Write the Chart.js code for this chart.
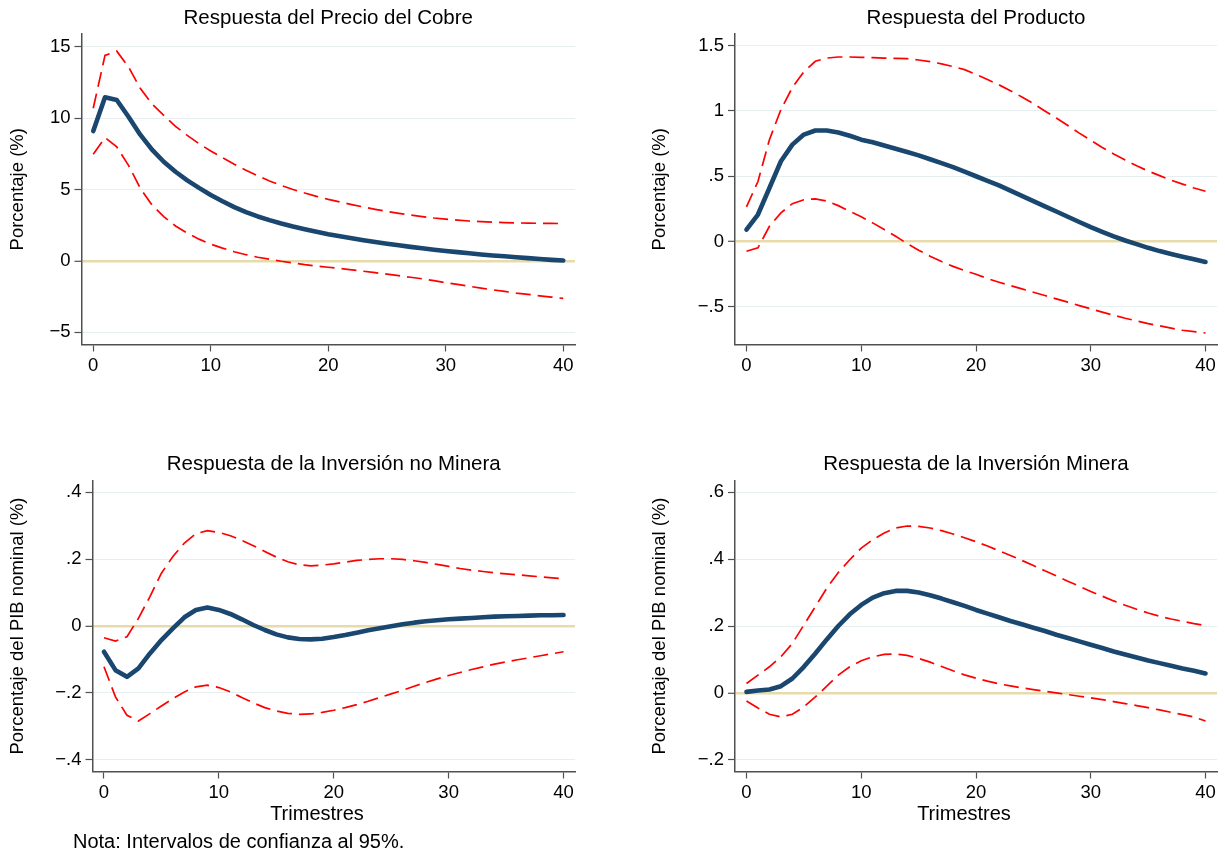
<!DOCTYPE html>
<html>
<head>
<meta charset="utf-8">
<script src="https://cdn.jsdelivr.net/npm/chart.js@4.4.1/dist/chart.umd.min.js"></script>
<style>
  html, body { margin: 0; padding: 0; background: #fff; }
  #wrap { position: relative; width: 1225px; height: 854px; overflow: hidden; background: #fff; }
  canvas { position: absolute; }
  #nota { position: absolute; left: 73px; top: 829px; font: 20px "Liberation Sans", Arial, sans-serif; color: #000; line-height: 24px; white-space: nowrap; }
</style>
</head>
<body>
<div id="wrap">
  <canvas id="c1" width="612" height="427" style="left:0px;top:0px"></canvas>
  <canvas id="c2" width="613" height="427" style="left:612px;top:0px"></canvas>
  <canvas id="c3" width="612" height="427" style="left:0px;top:427px"></canvas>
  <canvas id="c4" width="613" height="427" style="left:612px;top:427px"></canvas>
  <div id="nota">Nota: Intervalos de confianza al 95%.</div>
</div>
<script>
// ---------------- DATA ----------------
const quarters = [0,1,2,3,4,5,6,7,8,9,10,11,12,13,14,15,16,17,18,19,20,21,22,23,24,25,26,27,28,29,30,31,32,33,34,35,36,37,38,39,40];

const xTicks = [0, 10, 20, 30, 40];
const xTickLabels = ['0', '10', '20', '30', '40'];

// Panel 1: Respuesta del Precio del Cobre
const cobreIRF   = [9.1, 11.47, 11.28, 10.1, 8.85, 7.8, 6.95, 6.25, 5.65, 5.12, 4.62, 4.18, 3.77, 3.42, 3.12, 2.86, 2.63, 2.42, 2.23, 2.05, 1.88, 1.74, 1.60, 1.46, 1.33, 1.21, 1.10, 0.99, 0.89, 0.79, 0.70, 0.62, 0.54, 0.46, 0.39, 0.33, 0.26, 0.20, 0.14, 0.08, 0.03];
const cobreUpper = [10.7, 14.4, 14.7, 13.6, 12.1, 11.0, 10.2, 9.43, 8.8, 8.22, 7.7, 7.24, 6.78, 6.36, 5.97, 5.6, 5.29, 5.01, 4.76, 4.53, 4.32, 4.13, 3.95, 3.78, 3.62, 3.47, 3.34, 3.22, 3.11, 3.01, 2.93, 2.86, 2.80, 2.76, 2.72, 2.69, 2.67, 2.65, 2.64, 2.63, 2.62];
const cobreLower = [7.48, 8.64, 7.99, 6.7, 5.1, 3.92, 3.11, 2.45, 1.95, 1.53, 1.18, 0.9, 0.65, 0.44, 0.26, 0.12, -0.02, -0.14, -0.26, -0.35, -0.44, -0.53, -0.62, -0.72, -0.82, -0.92, -1.03, -1.14, -1.25, -1.38, -1.52, -1.64, -1.77, -1.9, -2.02, -2.13, -2.25, -2.34, -2.44, -2.53, -2.62];
const cobreYTicks = [-5, 0, 5, 10, 15];
const cobreYTickLabels = ['\u22125', '0', '5', '10', '15'];

// Panel 2: Respuesta del Producto
const prodIRF   = [0.092, 0.207, 0.41, 0.615, 0.742, 0.819, 0.85, 0.85, 0.835, 0.81, 0.78, 0.76, 0.735, 0.71, 0.685, 0.66, 0.63, 0.60, 0.57, 0.535, 0.50, 0.465, 0.43, 0.39, 0.35, 0.31, 0.27, 0.23, 0.19, 0.15, 0.11, 0.075, 0.04, 0.008, -0.02, -0.048, -0.073, -0.095, -0.116, -0.136, -0.156];
const prodUpper = [0.265, 0.46, 0.78, 1.01, 1.18, 1.30, 1.38, 1.405, 1.413, 1.413, 1.41, 1.408, 1.405, 1.402, 1.40, 1.39, 1.378, 1.36, 1.34, 1.316, 1.28, 1.24, 1.20, 1.155, 1.107, 1.056, 1.0, 0.946, 0.888, 0.83, 0.775, 0.72, 0.67, 0.625, 0.58, 0.54, 0.505, 0.47, 0.44, 0.41, 0.385];
const prodLower = [-0.074, -0.048, 0.117, 0.22, 0.29, 0.32, 0.327, 0.31, 0.275, 0.232, 0.19, 0.143, 0.092, 0.04, -0.015, -0.066, -0.112, -0.153, -0.19, -0.222, -0.25, -0.283, -0.311, -0.337, -0.362, -0.388, -0.413, -0.439, -0.464, -0.49, -0.515, -0.54, -0.564, -0.587, -0.607, -0.628, -0.645, -0.663, -0.679, -0.69, -0.70];
const prodYTicks = [-0.5, 0, 0.5, 1, 1.5];
const prodYTickLabels = ['\u2212.5', '0', '.5', '1', '1.5'];

// Panel 3: Respuesta de la Inversión no Minera
const noMinIRF   = [-0.077, -0.132, -0.152, -0.127, -0.082, -0.042, -0.007, 0.026, 0.048, 0.055, 0.048, 0.036, 0.02, 0.003, -0.012, -0.025, -0.034, -0.039, -0.04, -0.038, -0.033, -0.027, -0.02, -0.013, -0.007, -0.001, 0.005, 0.01, 0.014, 0.017, 0.02, 0.022, 0.024, 0.026, 0.028, 0.029, 0.03, 0.031, 0.032, 0.032, 0.033];
const noMinUpper = [-0.035, -0.045, -0.032, 0.023, 0.088, 0.158, 0.208, 0.248, 0.276, 0.285, 0.28, 0.27, 0.256, 0.24, 0.223, 0.206, 0.192, 0.183, 0.18, 0.182, 0.186, 0.191, 0.196, 0.199, 0.201, 0.201, 0.199, 0.195, 0.19, 0.184, 0.178, 0.172, 0.167, 0.163, 0.159, 0.156, 0.153, 0.15, 0.147, 0.144, 0.141];
const noMinLower = [-0.122, -0.212, -0.267, -0.284, -0.262, -0.239, -0.217, -0.197, -0.182, -0.177, -0.184, -0.197, -0.214, -0.23, -0.244, -0.254, -0.261, -0.264, -0.263, -0.258, -0.252, -0.244, -0.235, -0.225, -0.214, -0.203, -0.192, -0.18, -0.169, -0.158, -0.148, -0.139, -0.13, -0.122, -0.114, -0.107, -0.101, -0.095, -0.089, -0.083, -0.077];
const noMinYTicks = [-0.4, -0.2, 0, 0.2, 0.4];
const noMinYTickLabels = ['\u2212.4', '\u2212.2', '0', '.2', '.4'];

// Panel 4: Respuesta de la Inversión Minera
const minIRF   = [0.003, 0.007, 0.01, 0.02, 0.043, 0.078, 0.118, 0.16, 0.2, 0.235, 0.263, 0.285, 0.298, 0.305, 0.305, 0.30, 0.292, 0.282, 0.271, 0.26, 0.248, 0.237, 0.226, 0.215, 0.205, 0.195, 0.185, 0.174, 0.164, 0.154, 0.144, 0.134, 0.124, 0.115, 0.106, 0.097, 0.089, 0.081, 0.073, 0.066, 0.058];
const minUpper = [0.028, 0.053, 0.078, 0.108, 0.148, 0.203, 0.258, 0.313, 0.36, 0.398, 0.433, 0.458, 0.478, 0.493, 0.499, 0.498, 0.493, 0.485, 0.475, 0.464, 0.452, 0.439, 0.425, 0.411, 0.396, 0.381, 0.365, 0.35, 0.334, 0.319, 0.303, 0.289, 0.275, 0.262, 0.25, 0.239, 0.229, 0.221, 0.214, 0.207, 0.201];
const minLower = [-0.024, -0.045, -0.064, -0.072, -0.064, -0.042, -0.012, 0.02, 0.053, 0.078, 0.096, 0.108, 0.115, 0.116, 0.112, 0.103, 0.092, 0.079, 0.066, 0.054, 0.044, 0.035, 0.027, 0.021, 0.015, 0.01, 0.005, 0.0, -0.005, -0.01, -0.015, -0.02, -0.026, -0.032, -0.038, -0.044, -0.051, -0.058, -0.065, -0.072, -0.084];
const minYTicks = [-0.2, 0, 0.2, 0.4, 0.6];
const minYTickLabels = ['\u2212.2', '0', '.2', '.4', '.6'];

// ---------------- STYLE ----------------
const FONT = '"Liberation Sans", Arial, Helvetica, sans-serif';
const NAVY = '#1a476f';
const RED = '#ff0000';
const GRID = '#e6eef0';
const ZERO = '#e8dbab';
const AXIS = '#505050';

const panelText = {
  id: 'panelText',
  afterDraw(chart, args, o) {
    const ctx = chart.ctx, a = chart.chartArea;
    ctx.save();
    ctx.fillStyle = '#000';
    ctx.textAlign = 'center';
    ctx.textBaseline = 'middle';
    ctx.font = '20.5px ' + FONT;
    ctx.fillText(o.title, (a.left + a.right) / 2, o.titleY);
    ctx.save();
    ctx.font = '18.5px ' + FONT;
    ctx.translate(o.yTitleX, (a.top + a.bottom) / 2);
    ctx.rotate(-Math.PI / 2);
    ctx.fillText(o.yTitle, 0, 0);
    ctx.restore();
    if (o.xTitle) {
      ctx.font = '20px ' + FONT;
      ctx.fillText(o.xTitle, o.xTitleX, o.xTitleY);
    }
    ctx.restore();
  }
};

function makePanel(id, irf, upper, lower, yMin, yMax, yTicks, yLabels, L) {
  const toXY = arr => quarters.map((q, i) => ({ x: q, y: arr[i] }));
  const dash = (arr) => ({
    data: toXY(arr), borderColor: RED, borderWidth: 1.7, borderDash: [15, 7],
    pointRadius: 0, tension: 0, fill: false, order: 2
  });
  return new Chart(document.getElementById(id), {
    type: 'line',
    data: {
      datasets: [
        { data: toXY(irf), borderColor: NAVY, borderWidth: 4.6, pointRadius: 0, tension: 0,
          borderCapStyle: 'round', borderJoinStyle: 'round', fill: false, order: 0 },
        dash(upper),
        dash(lower)
      ]
    },
    options: {
      responsive: false,
      animation: false,
      devicePixelRatio: 1,
      layout: { padding: { left: 0, top: L.top, right: L.right, bottom: 0 } },
      plugins: {
        legend: { display: false },
        tooltip: { enabled: false },
        title: { display: false },
        panelText: L.text
      },
      scales: {
        x: {
          type: 'linear', min: -1, max: 41,
          afterBuildTicks: s => { s.ticks = xTicks.map(v => ({ value: v })); },
          afterFit: s => { s.height = L.xHeight; },
          ticks: {
            autoSkip: false, maxRotation: 0, padding: 3, color: '#000',
            font: { family: FONT, size: 18.5 },
            callback: v => xTickLabels[xTicks.indexOf(v)]
          },
          grid: { drawOnChartArea: false, drawTicks: true, tickLength: 7, tickColor: AXIS, tickWidth: 1.2 },
          border: { display: true, color: AXIS, width: 1.5 }
        },
        y: {
          type: 'linear', min: yMin, max: yMax,
          afterBuildTicks: s => { s.ticks = yTicks.map(v => ({ value: v })); },
          afterFit: s => { s.width = L.yWidth; },
          ticks: {
            autoSkip: false, padding: 4, color: '#000',
            font: { family: FONT, size: 18.5 },
            callback: v => yLabels[yTicks.indexOf(v)]
          },
          grid: {
            drawOnChartArea: true, drawTicks: true, tickLength: 7, tickColor: AXIS, tickWidth: 1.2,
            color: c => (c.tick && c.tick.value === 0) ? ZERO : GRID,
            lineWidth: c => (c.tick && c.tick.value === 0) ? 2.6 : 1
          },
          border: { display: true, color: AXIS, width: 1.5 }
        }
      }
    },
    plugins: [panelText]
  });
}

makePanel('c1', cobreIRF, cobreUpper, cobreLower, -5.85, 15.9, cobreYTicks, cobreYTickLabels, {
  top: 34, right: 37, xHeight: 82.5, yWidth: 81.5,
  text: { title: 'Respuesta del Precio del Cobre', titleY: 18, yTitle: 'Porcentaje (%)', yTitleX: 18 }
});
makePanel('c2', prodIRF, prodUpper, prodLower, -0.788, 1.589, prodYTicks, prodYTickLabels, {
  top: 34, right: 8, xHeight: 82.5, yWidth: 123,
  text: { title: 'Respuesta del Producto', titleY: 18, yTitle: 'Porcentaje (%)', yTitleX: 48 }
});
makePanel('c3', noMinIRF, noMinUpper, noMinLower, -0.435, 0.435, noMinYTicks, noMinYTickLabels, {
  top: 53.5, right: 37, xHeight: 82.5, yWidth: 92.5,
  text: { title: 'Respuesta de la Inversión no Minera', titleY: 37, yTitle: 'Porcentaje del PIB nominal (%)', yTitleX: 18,
          xTitle: 'Trimestres', xTitleX: 317, xTitleY: 387 }
});
makePanel('c4', minIRF, minUpper, minLower, -0.235, 0.635, minYTicks, minYTickLabels, {
  top: 53.5, right: 8, xHeight: 82.5, yWidth: 123,
  text: { title: 'Respuesta de la Inversión Minera', titleY: 37, yTitle: 'Porcentaje del PIB nominal (%)', yTitleX: 48,
          xTitle: 'Trimestres', xTitleX: 352, xTitleY: 387 }
});
</script>
</body>
</html>
